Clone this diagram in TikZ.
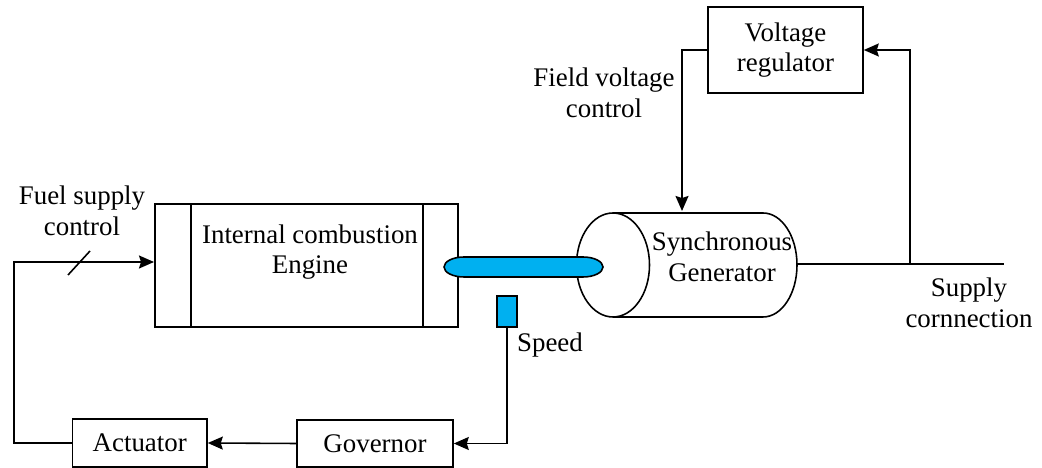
\documentclass[tikz,border=0pt]{standalone}
\usepackage{fontspec}
\setmainfont{Liberation Serif}
\usetikzlibrary{arrows.meta}
\definecolor{shaftblue}{HTML}{00B0F0}

\begin{document}
\begin{tikzpicture}[
    line width=0.9pt,
    box/.style={draw, minimum width=#1, inner sep=0pt, align=center},
    lbl/.style={align=center, inner sep=0pt},
    arr/.style={-{Stealth[length=0.3cm, width=0.26cm, inset=0.04cm]}},
    every node/.append style={font=\fontsize{15.3}{17.4}\selectfont},
]
    \useasboundingbox (0,0) rectangle (20.84,9.36);

    % engine
    \node[box=6.06cm, minimum height=2.46cm] (engine) at (6.13,4.05) {};
    \draw (engine.north west) ++(0.74,0) -- ++(0,-2.46);
    \draw (engine.north east) ++(-0.72,0) -- ++(0,-2.46);
    \node[lbl] (enginetext) at (6.2,4.32) {Internal combustion\\Engine};

    % generator
    \draw (12.26,5.10) -- (15.26,5.10) arc[start angle=90, end angle=-90, x radius=0.68, y radius=1.04] -- (12.26,3.02);
    \draw (12.26,4.06) ellipse [x radius=0.73, y radius=1.04];
    \node[lbl] (gentext) at (14.44,4.22) {Synchronous\\Generator};

    % shaft and sensor
    \draw[fill=shaftblue] (9.28,4.22) -- (11.66,4.22) arc[start angle=90, end angle=-90, x radius=0.4, y radius=0.2] -- (9.28,3.82) arc[start angle=270, end angle=90, x radius=0.4, y radius=0.2] -- cycle;
    \node[box=0.4cm, minimum height=0.62cm, fill=shaftblue] (sensor) at (10.14,3.13) {};

    % control boxes
    \node[box=3.12cm, minimum height=0.94cm] (governor) at (7.5,0.49) {\raisebox{-0.08cm}{Governor}};
    \node[box=2.69cm, minimum height=0.96cm] (actuator) at (2.795,0.5) {Actuator};
    \node[box=3.1cm, minimum height=1.72cm] (vreg) at (15.71,8.36) {Voltage\\regulator};

    \coordinate (fieldcorner) at (13.64,8.36);
    \coordinate (gentop) at (13.64,5.14);
    \coordinate (genright) at (15.94,4.08);
    \coordinate (supplyend) at (20.08,4.08);
    \coordinate (tap) at (18.2,4.08);
    \coordinate (fuelcorner) at (0.28,4.12);
    \coordinate (fuelin) at (3.08,4.12);
    \coordinate (ticka) at (1.36,3.86);
    \coordinate (tickb) at (1.8,4.34);

    \draw[arr] (vreg.west) -- (fieldcorner) -- (gentop);
    \draw (genright) -- (supplyend);
    \draw[arr] (tap) |- (vreg.east);
    \draw[arr] (sensor.south) |- (governor.east);
    \draw[arr] (governor.west) -- (actuator.east);
    \draw[arr] (actuator.west) -| (fuelcorner) -- (fuelin);
    \draw (ticka) -- (tickb);

    % labels
    \node[lbl] (fuellabel) at (1.64,5.14) {Fuel supply\\control};
    \node[lbl] (fieldlabel) at (12.08,7.5) {Field voltage\\control};
    \node[lbl] (speedlabel) at (11,2.46) {Speed};
    \node[lbl] (supplylabel) at (19.38,3.3) {Supply\\cornnection};
\end{tikzpicture}
\end{document}
